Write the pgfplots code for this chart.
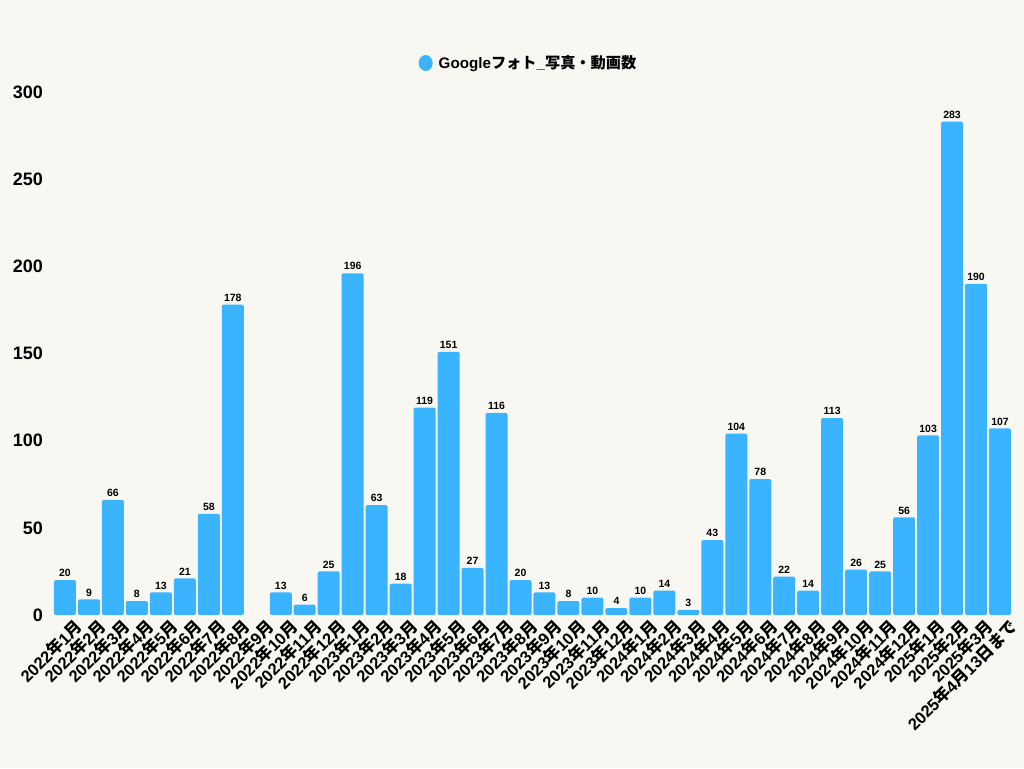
\documentclass[border=0pt]{standalone}
\usepackage{pgfplots}
\pgfplotsset{compat=1.18}
\usepackage{fontspec}
\setmainfont{Liberation Sans}
\newfontfamily\jp{Noto Sans CJK JP}
\definecolor{bg}{RGB}{249,247,242}
\definecolor{barblue}{RGB}{58,180,255}
\newcommand\ym[2]{#1{\jp 年}#2{\jp 月}}
\begin{document}
\begin{tikzpicture}[x=1pt,y=1pt]
\fill[bg] (0,0) rectangle (1024,768);
\useasboundingbox (0,0) rectangle (1024,768);
\begin{axis}[
  at={(53pt,153pt)}, anchor=south west,
  scale only axis, width=959pt, height=523pt,
  xmin=-0.5, xmax=39.5, ymin=0, ymax=300,
  axis line style={draw=none},
  major tick length=0pt,
  ytick={0,50,...,300},
  xtick={0,...,39},
  xticklabels={\ym{2022}{1},\ym{2022}{2},\ym{2022}{3},\ym{2022}{4},\ym{2022}{5},\ym{2022}{6},\ym{2022}{7},\ym{2022}{8},\ym{2022}{9},\ym{2022}{10},\ym{2022}{11},\ym{2022}{12},
    \ym{2023}{1},\ym{2023}{2},\ym{2023}{3},\ym{2023}{4},\ym{2023}{5},\ym{2023}{6},\ym{2023}{7},\ym{2023}{8},\ym{2023}{9},\ym{2023}{10},\ym{2023}{11},\ym{2023}{12},
    \ym{2024}{1},\ym{2024}{2},\ym{2024}{3},\ym{2024}{4},\ym{2024}{5},\ym{2024}{6},\ym{2024}{7},\ym{2024}{8},\ym{2024}{9},\ym{2024}{10},\ym{2024}{11},\ym{2024}{12},
    \ym{2025}{1},\ym{2025}{2},\ym{2025}{3},{2025{\jp 年}4{\jp 月}13{\jp 日まで}}},
  xticklabel style={rotate=45, anchor=north east, inner sep=0pt, xshift=4pt, yshift=-8pt, font=\fontsize{16.5}{16.5}\selectfont\bfseries},
  yticklabel style={anchor=east, inner sep=0pt, xshift=-10pt, font=\fontsize{18}{18}\selectfont\bfseries},
  /pgf/number format/assume math mode=true,
  ybar, bar width=22pt,
  nodes near coords,
  every node near coord/.append style={font=\fontsize{10.5}{10.5}\selectfont\bfseries, anchor=south, inner sep=0pt, yshift=3pt},
  legend style={at={(0.4958,1.0554)}, anchor=center, draw=none, fill=none, font=\fontsize{15.2}{15.2}\selectfont\bfseries},
  legend image code/.code={\fill[barblue] (0pt,0pt) ellipse (7pt and 8pt); \path (11pt,0pt);},
]
\addplot[fill=barblue, draw=none, rounded corners=1.5pt] coordinates {
(0,20) (1,9) (2,66) (3,8) (4,13) (5,21) (6,58) (7,178)
(9,13) (10,6) (11,25)
(12,196) (13,63) (14,18) (15,119) (16,151) (17,27) (18,116) (19,20) (20,13) (21,8) (22,10) (23,4)
(24,10) (25,14) (26,3) (27,43) (28,104) (29,78) (30,22) (31,14) (32,113) (33,26) (34,25) (35,56)
(36,103) (37,283) (38,190) (39,107)
};
\addlegendentry{Google{\jp フォト}\_{\jp 写真・動画数}}
\end{axis}
\end{tikzpicture}
\end{document}
